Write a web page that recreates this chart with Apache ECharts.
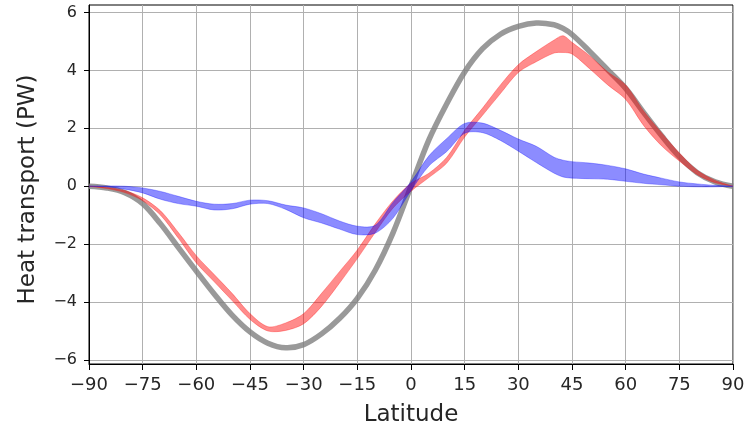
<!DOCTYPE html>
<html>
<head>
<meta charset="utf-8">
<script src="https://cdn.jsdelivr.net/npm/echarts@6/dist/echarts.min.js"></script>
<style>
  html, body { margin: 0; padding: 0; background: #ffffff; }
  #chart { width: 755px; height: 426px; }
</style>
</head>
<body>
<div id="chart"></div>
<script>
// latitude samples (deg)
var lat = [-90, -85, -80, -75, -70, -65, -60, -55, -50, -45, -40, -35, -30, -25, -20, -15, -10, -5,
  0, 5, 10, 15, 20, 25, 30, 35, 40, 42.5, 45, 50, 55, 60, 65, 70, 75, 80, 85, 90]

// total transport (gray line)
var grayTotal = [0, -0.06, -0.22, -0.6, -1.3, -2.12, -2.93, -3.72, -4.45, -5.03, -5.42, -5.58, -5.47, -5.1, -4.57, -3.87, -2.9, -1.6,
  0.0, 1.6, 2.85, 3.95, 4.75, 5.25, 5.52, 5.64, 5.58, 5.45, 5.24, 4.65, 4.02, 3.38, 2.55, 1.75, 1.02, 0.47, 0.15, 0]

// red band
var redLow = [0, -0.08, -0.22, -0.5, -1.0, -1.8, -2.65, -3.3, -3.95, -4.6, -5.0, -4.98, -4.75, -4.15, -3.35, -2.5, -1.6, -0.75,
  -0.17, 0.3, 0.8, 1.7, 2.45, 3.2, 3.93, 4.3, 4.6, 4.62, 4.57, 4.05, 3.5, 3.0, 2.1, 1.4, 0.87, 0.4, 0.12, 0]
var redHigh = [0, -0.04, -0.15, -0.4, -0.85, -1.6, -2.4, -3.05, -3.7, -4.4, -4.85, -4.72, -4.4, -3.7, -2.95, -2.2, -1.3, -0.5,
  0.1, 0.45, 1.0, 1.93, 2.7, 3.5, 4.2, 4.65, 5.05, 5.2, 4.97, 4.5, 3.95, 3.5, 2.6, 1.85, 1.15, 0.55, 0.2, 0]

// blue band
var blueLow = [0, -0.02, -0.1, -0.23, -0.45, -0.6, -0.69, -0.82, -0.78, -0.62, -0.6, -0.8, -1.09, -1.27, -1.48, -1.67, -1.62, -1.1,
  -0.15, 0.7, 1.2, 1.83, 1.85, 1.58, 1.21, 0.82, 0.45, 0.32, 0.28, 0.26, 0.24, 0.17, 0.1, 0.05, 0, -0.02, -0.02, 0]
var blueHigh = [0, 0.01, 0, -0.06, -0.18, -0.35, -0.52, -0.62, -0.6, -0.48, -0.5, -0.65, -0.75, -0.95, -1.2, -1.38, -1.35, -0.55,
  0.15, 1.05, 1.65, 2.17, 2.18, 1.93, 1.63, 1.38, 1.0, 0.9, 0.85, 0.8, 0.72, 0.6, 0.42, 0.28, 0.15, 0.08, 0.03, 0]

var yTicks = [-6, -4, -2, 0, 2, 4, 6]

function minusSign(v) {
  return String(v).replace('-', '\u2212')
}

var font = 'DejaVu Sans'
var myChart = echarts.init(document.getElementById('chart'), null, { renderer: 'canvas' })

// thick gray curve, points mapped with api.coord
function curveSeries(name, ys, color, width) {
  return {
    name: name,
    type: 'custom',
    silent: true,
    data: [[0, 0]],
    renderItem: function (params, api) {
      var pts = lat.map(function (x, i) { return api.coord([x, ys[i]]) })
      return {
        type: 'polyline',
        shape: { points: pts, smooth: 0.35 },
        style: { fill: null, stroke: color, lineWidth: width, lineJoin: 'round', lineCap: 'butt' }
      }
    }
  }
}

// one custom item per band: polygon between lo and hi
function bandSeries(name, lo, hi, edge, fill) {
  return {
    name: name,
    type: 'custom',
    silent: true,
    data: [[0, 0]],
    renderItem: function (params, api) {
      var top = lat.map(function (x, i) { return api.coord([x, hi[i]]) })
      var bot = lat.map(function (x, i) { return api.coord([x, lo[i]]) })
      var ring = top.concat(bot.slice().reverse())
      return {
        type: 'polygon',
        shape: { points: ring, smooth: 0.3 },
        style: { fill: fill, stroke: edge, lineWidth: 1 }
      }
    }
  }
}

var option = {
  animation: false,
  backgroundColor: '#ffffff',
  grid: {
    left: 89,
    right: 22,
    top: 5,
    bottom: 62,
    outerBoundsMode: 'none',
    show: true,
    borderColor: '#000000',
    borderWidth: 1,
    backgroundColor: 'transparent'
  },
  xAxis: {
    type: 'value',
    min: -90,
    max: 90,
    interval: 15,
    name: 'Latitude',
    nameLocation: 'middle',
    nameGap: 40,
    nameTextStyle: { fontFamily: font, fontSize: 23, color: '#262626' },
    axisLine: { show: true, onZero: false, lineStyle: { color: '#000000', width: 1 } },
    axisTick: { show: true, inside: false, length: 6, lineStyle: { color: '#000000' } },
    axisLabel: {
      fontFamily: font, fontSize: 18, color: '#262626', margin: 12,
      formatter: function (v) { return minusSign(v) }
    },
    splitLine: { show: true, lineStyle: { color: '#b0b0b0', width: 1 } }
  },
  yAxis: {
    type: 'value',
    min: -6.14,
    max: 6.26,
    name: 'Heat transport (PW)',
    nameLocation: 'middle',
    nameGap: 49,
    nameRotate: 90,
    nameTextStyle: { fontFamily: font, fontSize: 23, color: '#262626', padding: [0, 10, 0, 0] },
    axisLine: { show: true, onZero: false, lineStyle: { color: '#000000', width: 1 } },
    axisTick: { show: true, inside: false, length: 5, customValues: yTicks, lineStyle: { color: '#000000' } },
    axisLabel: {
      fontFamily: font, fontSize: 16, color: '#262626', margin: 12,
      customValues: yTicks,
      formatter: function (v) { return minusSign(v) }
    },
    splitLine: { show: true, lineStyle: { color: '#b0b0b0', width: 1 } }
  },
  series: [
    curveSeries('total', grayTotal, 'rgba(128,128,128,0.8)', 5.5),
    bandSeries('red', redLow, redHigh, 'rgba(255,0,0,0.3)', 'rgba(255,0,0,0.45)'),
    bandSeries('blue', blueLow, blueHigh, 'rgba(0,0,255,0.3)', 'rgba(0,0,255,0.45)')
  ]
}

myChart.setOption(option, true)
window.addEventListener('resize', () => {
  myChart.resize()
})
</script>
</body>
</html>
